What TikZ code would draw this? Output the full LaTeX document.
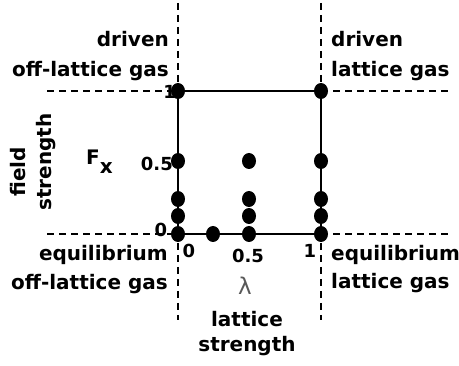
\documentclass[tikz,border=0pt]{standalone}
\usepackage{fontspec}
\setmainfont{DejaVu Sans}
\usetikzlibrary{shapes.geometric}
\begin{document}
\begin{tikzpicture}[x=1pt,y=-1pt,
 dot/.style={ellipse,fill=black,minimum width=14pt,minimum height=16pt,inner sep=0pt},
 dashline/.style={line width=2.3pt,dash pattern=on 7pt off 5pt},
 boxline/.style={line width=2.7pt},
 lab/.style={font=\fontsize{20}{24}\selectfont\bfseries,inner sep=0pt},
 tick/.style={font=\fontsize{18}{22}\selectfont\bfseries,inner sep=0pt}]
\useasboundingbox (0,0) rectangle (459,366);
% end points of the dashed guide lines
\coordinate (vt0) at (178,3);
\coordinate (vb0) at (178,320);
\coordinate (vt1) at (321,3);
\coordinate (vb1) at (321,320);
\coordinate (hl1) at (47,91);
\coordinate (hr1) at (452,91);
\coordinate (hl0) at (47,234);
\coordinate (hr0) at (452,234);
% labels
\node[lab,anchor=base east] (tl1) at (169,47) {driven};
\node[lab,anchor=base east] (tl2) at (169,77) {off-lattice gas};
\node[lab,anchor=base west] (tr1) at (331,47) {driven};
\node[lab,anchor=base west] (tr2) at (331,77) {lattice gas};
\node[lab,anchor=base east] (bl1) at (168,261) {equilibrium};
\node[lab,anchor=base east] (bl2) at (168,290) {off-lattice gas};
\node[lab,anchor=base west] (br1) at (331,261) {equilibrium};
\node[lab,anchor=base west] (br2) at (331,289) {lattice gas};
\node[lab,anchor=base] (xl1) at (247,327) {lattice};
\node[lab,anchor=base] (xl2) at (247,352) {strength};
\node[font=\fontsize{23}{26}\selectfont,text=black!65,anchor=base,inner sep=0pt] (lam) at (245,295) {λ};
\node[lab,rotate=90] (yl1) at (18,172) {field};
\node[lab,rotate=90] (yl2) at (46,162) {strength};
\node[font=\fontsize{20}{24}\selectfont\bfseries,inner sep=0pt,anchor=base west] (fx) at (86,165) {F\raisebox{-9pt}{x}};
% ticks
\node[tick,anchor=east] (ty1) at (176,92) {1};
\node[tick,anchor=east] (tyh) at (173,164) {0.5};
\node[tick] (ty0) at (161,230) {0};
\node[tick] (tx0) at (189,251) {0};
\node[tick] (txh) at (248,256) {0.5};
\node[tick] (tx1) at (310,251) {1};
% dashed guide lines
\draw[dashline] (vt0) -- (vb0);
\draw[dashline] (vt1) -- (vb1);
\draw[dashline] (hl1) -- (178,91);
\draw[dashline] (321,91) -- (hr1);
\draw[dashline] (hl0) -- (178,234);
\draw[dashline] (321,234) -- (hr0);
% dots
\node[dot] (p00) at (178,234) {};
\node[dot] (p0a) at (178,216) {};
\node[dot] (p0b) at (178,199) {};
\node[dot] (p0c) at (178,161) {};
\node[dot] (p0d) at (178,91) {};
\node[dot] (pq0) at (213,234) {};
\node[dot] (ph0) at (249,234) {};
\node[dot] (pha) at (249,216) {};
\node[dot] (phb) at (249,199) {};
\node[dot] (phc) at (249,161) {};
\node[dot] (p10) at (321,234) {};
\node[dot] (p1a) at (321,216) {};
\node[dot] (p1b) at (321,199) {};
\node[dot] (p1c) at (321,161) {};
\node[dot] (p1d) at (321,91) {};
% box
\draw[boxline] (p00.center) -- (p10.center) -- (p1d.center) -- (p0d.center) -- cycle;
\end{tikzpicture}
\end{document}
